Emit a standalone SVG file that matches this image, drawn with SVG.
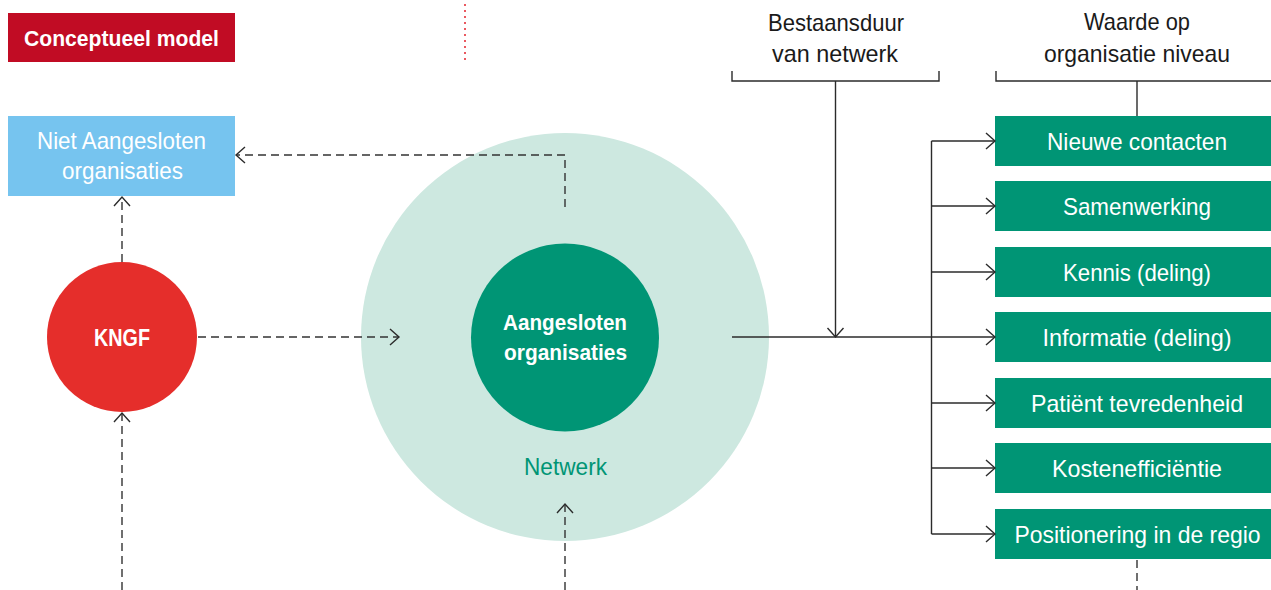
<svg xmlns="http://www.w3.org/2000/svg" width="1271" height="590" viewBox="0 0 1271 590">
  <defs>
    <style>
      text { font-family: "Liberation Sans", Arial, sans-serif; font-size: 24px; text-anchor: middle; }
      .w { fill: #ffffff; }
      .b { font-weight: bold; font-size: 22.5px; }
      .big { font-size: 24.5px; }
      .k { fill: #1a1a1a; }
      .g { fill: #009575; }
      .box { fill: #009575; }
      .solid { fill: none; stroke: #2b2b2b; stroke-width: 1.4; }
      .dash { fill: none; stroke: #333333; stroke-width: 1.4; stroke-dasharray: 8 5; }
    </style>
    <marker id="arr" markerUnits="userSpaceOnUse" markerWidth="20" markerHeight="20" viewBox="-12 -10 14 20" refX="0" refY="0" orient="auto">
      <path d="M-9,-8 L0,0 L-9,8" fill="none" stroke="#2b2b2b" stroke-width="1.4"/>
    </marker>
  </defs>
  <rect width="1271" height="590" fill="#ffffff"/>

  <g id="title">
    <rect x="8" y="13" width="227" height="49" fill="#c10c24"/>
    <text x="121.5" y="46" class="w b" textLength="195" lengthAdjust="spacingAndGlyphs">Conceptueel model</text>
  </g>

  <g id="divider">
    <line x1="465" y1="4" x2="465" y2="60" stroke="#e5303a" stroke-width="1.6" stroke-dasharray="2 4"/>
  </g>

  <g id="niet-aangesloten">
    <rect x="8" y="116" width="227" height="80" fill="#76c4ef"/>
    <text x="121.5" y="149" class="w" textLength="169" lengthAdjust="spacingAndGlyphs">Niet Aangesloten</text>
    <text x="122.5" y="179" class="w" textLength="121" lengthAdjust="spacingAndGlyphs">organisaties</text>
  </g>

  <g id="kngf">
    <circle cx="122" cy="337" r="75" fill="#e52e2b"/>
    <text x="122" y="346" class="w b big" textLength="56" lengthAdjust="spacingAndGlyphs">KNGF</text>
  </g>

  <g id="netwerk">
    <circle cx="565" cy="337" r="204" fill="#cde8e0"/>
    <text x="565.5" y="475" class="g" textLength="83" lengthAdjust="spacingAndGlyphs">Netwerk</text>
  </g>

  <g id="aangesloten">
    <circle cx="565" cy="337.5" r="94" fill="#009575"/>
    <text x="565" y="329.5" class="w b" textLength="124" lengthAdjust="spacingAndGlyphs">Aangesloten</text>
    <text x="565.5" y="359.5" class="w b" textLength="123" lengthAdjust="spacingAndGlyphs">organisaties</text>
  </g>

  <g id="bestaansduur">
    <text x="836" y="30.7" class="k" textLength="136" lengthAdjust="spacingAndGlyphs">Bestaansduur</text>
    <text x="835" y="62.3" class="k" textLength="126" lengthAdjust="spacingAndGlyphs">van netwerk</text>
    <path class="solid" d="M732,71 V81 H939 V71"/>
  </g>

  <g id="waarde">
    <text x="1137" y="30" class="k" textLength="106" lengthAdjust="spacingAndGlyphs">Waarde op</text>
    <text x="1137" y="61.6" class="k" textLength="186" lengthAdjust="spacingAndGlyphs">organisatie niveau</text>
    <path class="solid" d="M996,71 V81 H1271"/>
  </g>

  <g id="nieuwe-contacten">
    <rect class="box" x="995" y="116" width="284" height="50"/>
    <text x="1137" y="149.5" class="w" textLength="180" lengthAdjust="spacingAndGlyphs">Nieuwe contacten</text>
  </g>
  <g id="samenwerking">
    <rect class="box" x="995" y="181" width="284" height="50"/>
    <text x="1137" y="214.5" class="w" textLength="148" lengthAdjust="spacingAndGlyphs">Samenwerking</text>
  </g>
  <g id="kennis">
    <rect class="box" x="995" y="247" width="284" height="50"/>
    <text x="1137" y="280.5" class="w" textLength="148" lengthAdjust="spacingAndGlyphs">Kennis (deling)</text>
  </g>
  <g id="informatie">
    <rect class="box" x="995" y="312" width="284" height="50"/>
    <text x="1137" y="345.5" class="w" textLength="189" lengthAdjust="spacingAndGlyphs">Informatie (deling)</text>
  </g>
  <g id="patient">
    <rect class="box" x="995" y="378" width="284" height="50"/>
    <text x="1137" y="411.5" class="w" textLength="212" lengthAdjust="spacingAndGlyphs">Patiënt tevredenheid</text>
  </g>
  <g id="kosten">
    <rect class="box" x="995" y="443" width="284" height="50"/>
    <text x="1137" y="476.5" class="w" textLength="170" lengthAdjust="spacingAndGlyphs">Kostenefficiëntie</text>
  </g>
  <g id="positionering">
    <rect class="box" x="995" y="509" width="284" height="50"/>
    <text x="1137.5" y="542.5" class="w" textLength="246" lengthAdjust="spacingAndGlyphs">Positionering in de regio</text>
  </g>

  <g id="connectors">
    <line class="solid" x1="732" y1="337" x2="995" y2="337" marker-end="url(#arr)"/>
    <line class="solid" x1="835.5" y1="81" x2="835.5" y2="337" marker-end="url(#arr)"/>
    <line class="solid" x1="1137" y1="81" x2="1137" y2="116"/>
    <line class="solid" x1="931.5" y1="141" x2="931.5" y2="534"/>
    <line class="solid" x1="931.5" y1="141" x2="995" y2="141" marker-end="url(#arr)"/>
    <line class="solid" x1="931.5" y1="206" x2="995" y2="206" marker-end="url(#arr)"/>
    <line class="solid" x1="931.5" y1="272" x2="995" y2="272" marker-end="url(#arr)"/>
    <line class="solid" x1="931.5" y1="403" x2="995" y2="403" marker-end="url(#arr)"/>
    <line class="solid" x1="931.5" y1="468" x2="995" y2="468" marker-end="url(#arr)"/>
    <line class="solid" x1="931.5" y1="534" x2="995" y2="534" marker-end="url(#arr)"/>
    <path class="dash" d="M565,207 V155 H236" marker-end="url(#arr)"/>
    <line class="dash" x1="122" y1="262" x2="122" y2="197" marker-end="url(#arr)"/>
    <line class="dash" x1="122" y1="590" x2="122" y2="413" marker-end="url(#arr)"/>
    <line class="dash" x1="198" y1="337" x2="399" y2="337" marker-end="url(#arr)"/>
    <line class="dash" x1="565" y1="590" x2="565" y2="504" marker-end="url(#arr)"/>
    <line class="dash" x1="1137" y1="560" x2="1137" y2="590"/>
  </g>
</svg>
